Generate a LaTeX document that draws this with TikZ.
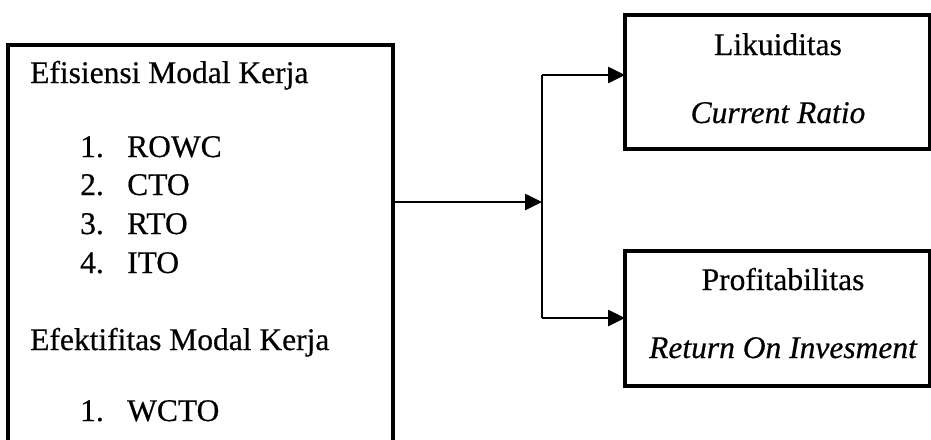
\documentclass[tikz,border=0pt]{standalone}
\usepackage{fontspec}
\setmainfont{Liberation Serif}[FakeBold=0.5]
\usetikzlibrary{arrows.meta}
\begin{document}
\begin{tikzpicture}[x=1pt,y=-1pt,
  box/.style={draw, line width=3.2pt, inner sep=0pt, outer sep=0pt, anchor=north west},
  conn/.style={line width=2.6pt},
  arr/.style={conn, -{Triangle[length=17pt,width=16pt]}},
  lbl/.style={inner sep=0pt, font=\fontsize{31.5}{36}\selectfont},
  lw/.style={lbl, anchor=base west},
  lc/.style={lbl, anchor=base},
]
\useasboundingbox (0,0) rectangle (931,439);
\clip (0,0) rectangle (931,439);

% left box: working-capital measures (runs past the lower edge)
\node[box, minimum width=385, minimum height=430] (modal) at (8,45) {};
\node[lw] (h1) at (30,83) {Efisiensi Modal Kerja};
\node[lw] (n1) at (80,157) {1.}; \node[lw] (t1) at (127,157) {ROWC};
\node[lw] (n2) at (80,195) {2.}; \node[lw] (t2) at (127,195) {CTO};
\node[lw] (n3) at (80,234) {3.}; \node[lw] (t3) at (127,234) {RTO};
\node[lw] (n4) at (80,273) {4.}; \node[lw] (t4) at (127,273) {ITO};
\node[lw] (h2) at (30,350) {Efektifitas Modal Kerja};
\node[lw] (n5) at (80,421) {1.}; \node[lw] (t5) at (127,421) {WCTO};

% right boxes (right border on the edge of the page)
\node[box, minimum width=305, minimum height=134] (liq) at (625,15) {};
\node[lc] (liqa) at (778,55) {Likuiditas};
\node[lc] (liqb) at (778,123) {\itshape Current Ratio};
\node[box, minimum width=305, minimum height=135] (prof) at (625,251) {};
\node[lc] (profa) at (783,290) {Profitabilitas};
\node[lc] (profb) at (783,358) {\itshape Return On Invesment};

% connectors
\coordinate (fork) at (542,202);
\coordinate (up) at (542,75);
\coordinate (dn) at (542,318);
\draw[arr] (modal.east |- fork) -- (fork);
\draw[conn] (up) -- (dn);
\draw[arr] (up) -- (up -| liq.west);
\draw[arr] (dn) -- (dn -| prof.west);
\end{tikzpicture}
\end{document}
